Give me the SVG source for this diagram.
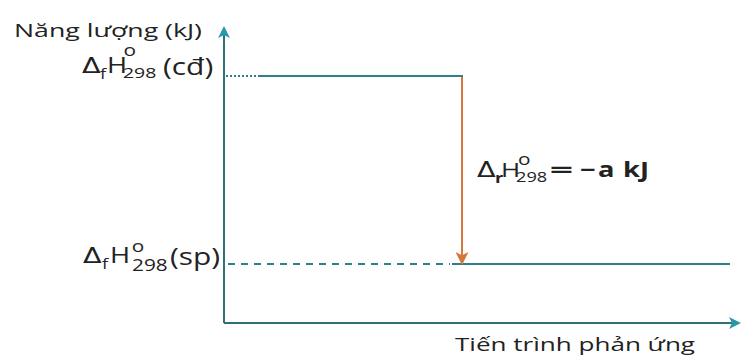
<svg xmlns="http://www.w3.org/2000/svg" width="742" height="363" viewBox="0 0 742 363">
<defs>
<marker id="ah" viewBox="0 0 12 12" refX="10" refY="6" markerWidth="12" markerHeight="12" markerUnits="userSpaceOnUse" orient="auto">
<path d="M0,0 L12,6 L0,12 L3,6 Z" fill="#2a97a8"/>
</marker>
<marker id="ao" viewBox="0 0 12 12" refX="11" refY="6" markerWidth="13" markerHeight="13" markerUnits="userSpaceOnUse" orient="auto">
<path d="M0,0 L12,6 L0,12 L3,6 Z" fill="#d8773a"/>
</marker>
</defs>
<style>
text{font-family:"Open Sans","Noto Sans",sans-serif;fill:#222;}
.lbl{font-size:19px;}
.b{font-weight:bold;}
.d{font-family:"DejaVu Sans",sans-serif;font-size:21px;}
.o{font-size:16px;}
.ax{stroke:#2f6f7a;stroke-width:2;fill:none;}
.lv{stroke:#2f7f8c;stroke-width:2;fill:none;}
</style>
<rect width="742" height="363" fill="#fff"/>
<g id="connectors">
<line class="ax" x1="224" y1="323" x2="224" y2="28" marker-end="url(#ah)"/>
<line class="ax" x1="224" y1="323" x2="739" y2="323" marker-end="url(#ah)"/>
<line class="lv" x1="226" y1="76" x2="260" y2="76" stroke-dasharray="2,2"/>
<line class="lv" x1="260" y1="76" x2="463" y2="76"/>
<line class="lv" x1="228" y1="264" x2="450" y2="264" stroke-dasharray="7,6"/>
<line class="lv" x1="452" y1="264" x2="730" y2="264"/>
<line x1="462" y1="77" x2="462" y2="264" stroke="#d8773a" stroke-width="2" marker-end="url(#ao)"/>
</g>
<g id="axis-y-label"><text class="lbl" x="14" y="37" textLength="188" lengthAdjust="spacingAndGlyphs">Năng lượng (kJ)</text></g>
<g id="level-reactants" transform="translate(82,0) scale(1.3,1)">
<text x="0" y="73" class="d">Δ</text>
<text x="13.8" y="79" font-size="14">f</text>
<text x="19.2" y="73" font-size="21">H</text>
<text x="32" y="56" class="o">o</text>
<text x="31.5" y="78" font-size="15">298</text>
<text x="62.3" y="75" font-size="23">(cđ)</text>
</g>
<g id="level-products" transform="translate(83,0) scale(1.3,1)">
<text x="0" y="263" class="d">Δ</text>
<text x="14.6" y="269" font-size="14">f</text>
<text x="20.8" y="263" font-size="21">H</text>
<text x="37.5" y="252" class="o">o</text>
<text x="37.7" y="271" font-size="16">298</text>
<text x="66.9" y="265" font-size="23">(sp)</text>
</g>
<g id="delta-label" transform="translate(477,0) scale(1.3,1)">
<text x="0" y="177" class="d">Δ</text>
<text x="13.8" y="183" font-size="14" class="b">r</text>
<text x="18.5" y="177" font-size="20">H</text>
<text x="31.5" y="165" class="o">o</text>
<text x="30" y="182" font-size="14">298</text>
<text transform="translate(56,0) scale(1.5,1)" x="0" y="177" font-size="21" class="b">=</text>
<text x="79.2" y="177" font-size="21" class="b">−</text>
<text x="93" y="177" font-size="21" class="b">a</text>
<text x="112.3" y="177" font-size="21" class="b">kJ</text>
</g>
<g id="axis-x-label"><text class="lbl" x="455" y="351" textLength="240" lengthAdjust="spacingAndGlyphs">Tiến trình phản ứng</text></g>
</svg>
